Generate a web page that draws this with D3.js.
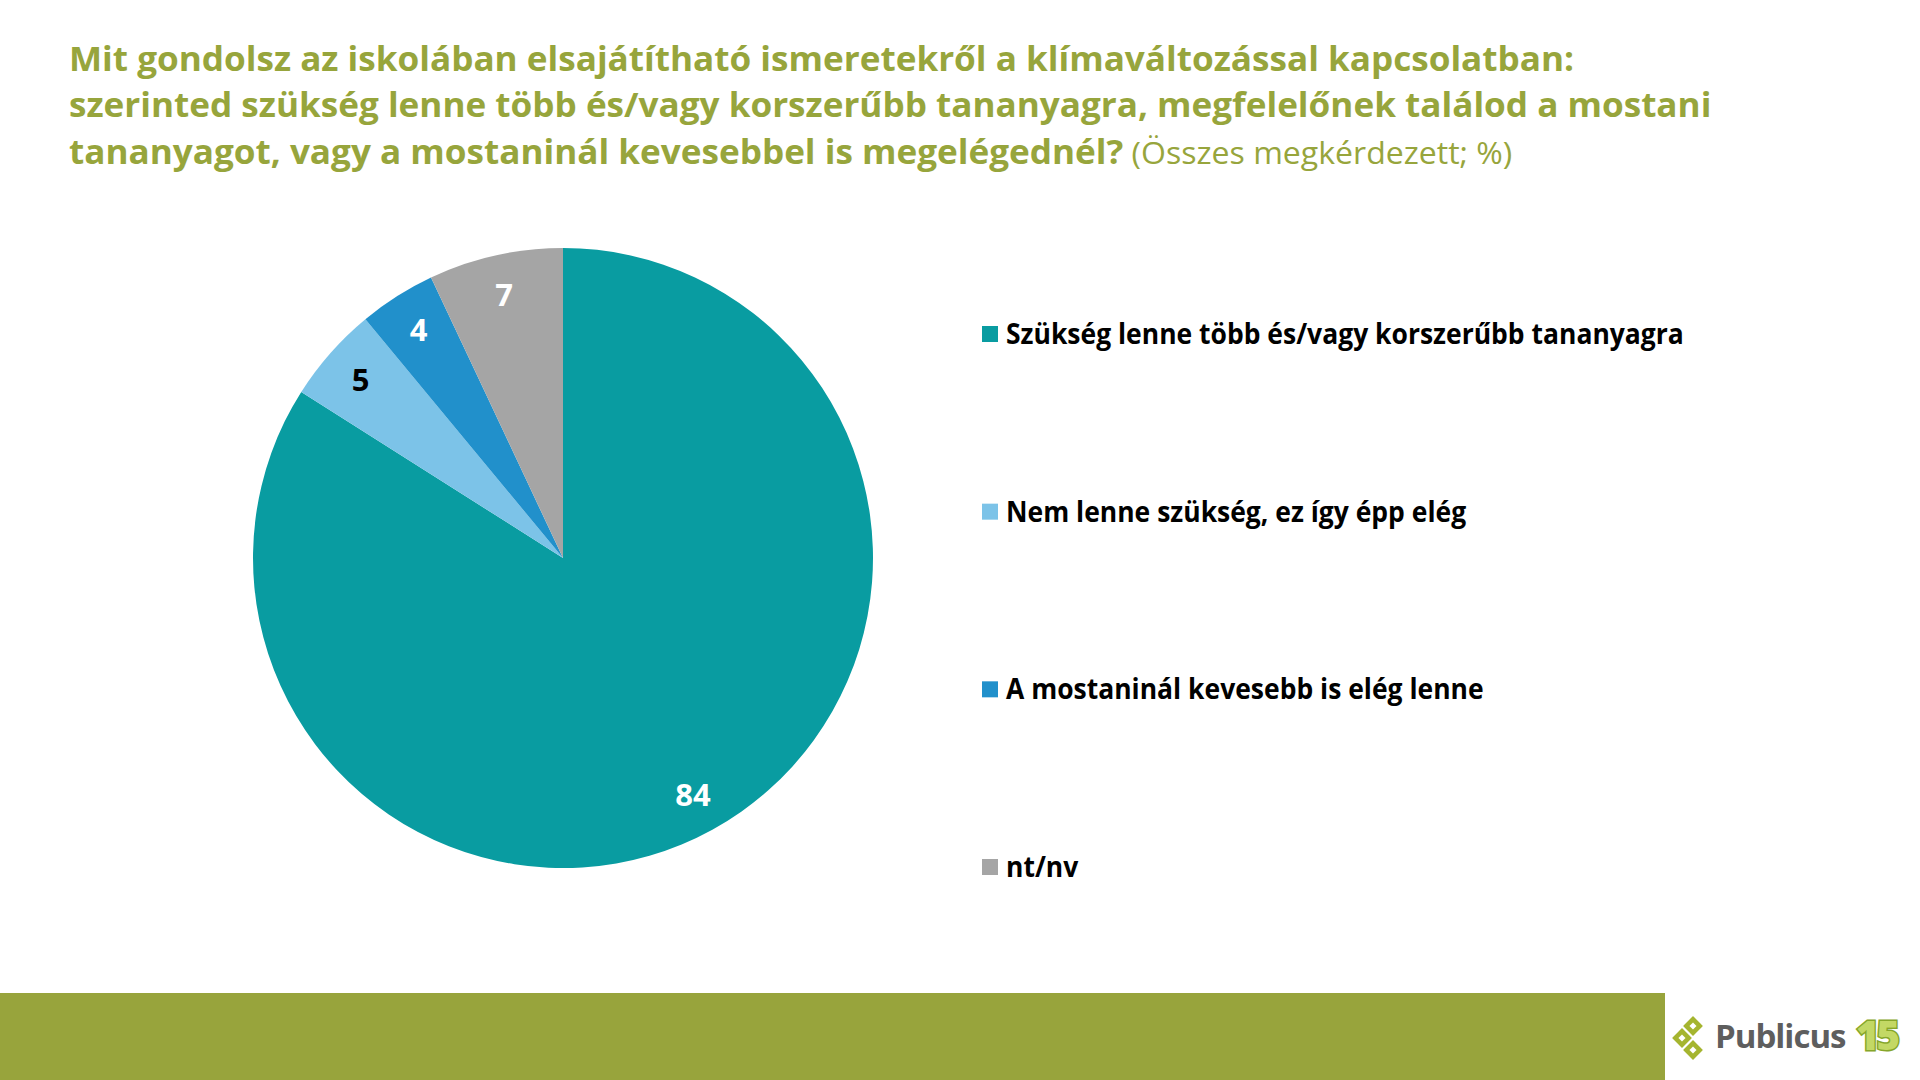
<!DOCTYPE html>
<html>
<head>
<meta charset="utf-8">
<script src="https://cdn.jsdelivr.net/npm/d3@7"></script>
<style>
  html, body { margin: 0; padding: 0; background: #fff; }
  svg { display: block; }
</style>
</head>
<body>
<div id="chart"></div>
<script>
// data
const categories = [
  "Szükség lenne több és/vagy korszerűbb tananyagra",
  "Nem lenne szükség, ez így épp elég",
  "A mostaninál kevesebb is elég lenne",
  "nt/nv"
];
const values = [84, 5, 4, 7];
const colors = ["#099ca1", "#7cc3e8", "#2190cb", "#a5a5a5"];
const labelColors = ["#fff", "#000", "#fff", "#fff"];

const titleLines = [
  "Mit gondolsz az iskolában elsajátítható ismeretekről a klímaváltozással kapcsolatban:",
  "szerinted szükség lenne több és/vagy korszerűbb tananyagra, megfelelőnek találod a mostani",
  "tananyagot, vagy a mostaninál kevesebbel is megelégednél?"
];
const titleNote = " (Összes megkérdezett; %)";

const width = 1920;
const height = 1080;
const green = "#97a53c";
const font = "'Open Sans', 'DejaVu Sans', sans-serif";

const svg = d3.select("#chart").append("svg")
  .attr("width", width)
  .attr("height", height);

// title - squeeze horizontally a bit to get Calibri-like widths
const titleG = svg.append("g");
titleLines.forEach((line, i) => {
  const t = titleG.append("text")
    .attr("x", 0)
    .attr("y", 71 + i * 46.5)
    .attr("font-family", font)
    .attr("font-weight", 700)
    .attr("font-size", 34.5)
    .attr("fill", green)
    .text(line);
  if (i === titleLines.length - 1) {
    t.append("tspan")
      .attr("font-weight", 400)
      .attr("font-size", 31.5)
      .text(titleNote);
  }
});
const line2 = titleG.selectAll("text").nodes()[1];
const sx = 1643 / line2.getComputedTextLength();
titleG.attr("transform", `translate(69,0) scale(${sx},1)`);

// pie
const cx = 563, cy = 558, r = 310;
const pie = d3.pie().sort(null).value(d => d)(values);
const arc = d3.arc().innerRadius(0).outerRadius(r);
const labelArc = d3.arc().innerRadius(r * 0.87).outerRadius(r * 0.87);

const pieG = svg.append("g").attr("transform", `translate(${cx},${cy})`);
pieG.selectAll("path")
  .data(pie)
  .join("path")
  .attr("d", arc)
  .attr("fill", (d, i) => colors[i]);

pieG.selectAll("text")
  .data(pie)
  .join("text")
  .attr("transform", d => `translate(${labelArc.centroid(d)})`)
  .attr("text-anchor", "middle")
  .attr("dy", "0.36em")
  .attr("font-family", font)
  .attr("font-weight", 700)
  .attr("font-size", 31)
  .attr("fill", (d, i) => labelColors[i])
  .text(d => d.data);

// legend
const legendY = d3.scalePoint().domain(categories).range([334, 867]);
const legend = svg.append("g");
const items = legend.selectAll("g")
  .data(categories)
  .join("g")
  .attr("transform", d => `translate(982,${legendY(d)})`);
items.append("rect")
  .attr("x", 0).attr("y", -8)
  .attr("width", 16).attr("height", 16)
  .attr("fill", (d, i) => colors[i]);
const legendText = items.append("text")
  .attr("x", 0)
  .attr("dy", "0.36em")
  .attr("font-family", font)
  .attr("font-weight", 700)
  .attr("font-size", 28)
  .attr("fill", "#000")
  .text(d => d);
const lw = legendText.nodes()[0].getComputedTextLength();
const lsx = 678 / lw;
legendText.attr("transform", `translate(24,0) scale(${lsx},1)`);

// footer band
svg.append("rect")
  .attr("x", 0).attr("y", 993)
  .attr("width", 1665).attr("height", height - 993)
  .attr("fill", "#98a43c");

// logo
const logo = svg.append("g").attr("transform", "translate(1693,1036)");
[[0, -10], [-11, 2], [0, 14]].forEach(([dx, dy]) => {
  logo.append("rect")
    .attr("x", -7).attr("y", -7).attr("width", 14).attr("height", 14)
    .attr("transform", `translate(${dx},${dy}) rotate(45)`)
    .attr("fill", "#a5b52f");
  logo.append("rect")
    .attr("x", -2.5).attr("y", -2.5).attr("width", 5).attr("height", 5)
    .attr("transform", `translate(${dx},${dy}) rotate(45)`)
    .attr("fill", "#fff");
});
logo.append("text")
  .attr("x", 22).attr("y", 12)
  .attr("font-family", font)
  .attr("font-weight", 700)
  .attr("font-size", 33)
  .attr("letter-spacing", -1)
  .attr("fill", "#5e5e5e")
  .text("Publicus");
logo.append("text")
  .attr("x", 163).attr("y", 14)
  .attr("font-family", font)
  .attr("font-weight", 800)
  .attr("font-size", 40)
  .attr("letter-spacing", -3)
  .attr("fill", "#c3d865")
  .attr("stroke", "#86a62a")
  .attr("stroke-width", 3)
  .attr("paint-order", "stroke")
  .text("15");
</script>
</body>
</html>
